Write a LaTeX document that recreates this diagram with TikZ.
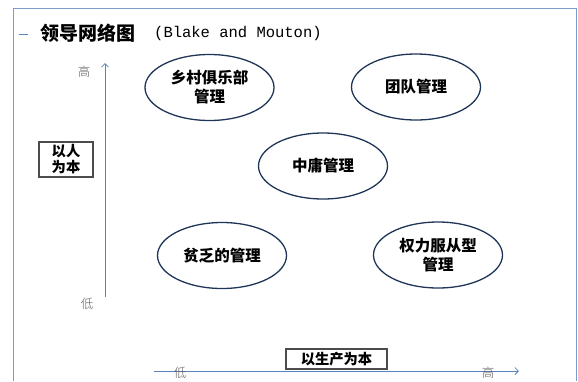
\documentclass[tikz,border=0pt]{standalone}
\usepackage{fontspec}
\usetikzlibrary{shapes.geometric,arrows.meta}
\newfontfamily\cjk{Noto Sans CJK SC}
\newfontfamily\cjklight{Noto Sans CJK SC Light}
\setmonofont{Liberation Mono}
\definecolor{framec}{HTML}{7C9CCB}
\definecolor{axisc}{HTML}{5B82BE}
\definecolor{ellc}{HTML}{1F3557}
\tikzset{
  px/.style={x=1pt,y=-1pt},
  oval/.style={ellipse,draw=ellc,line width=1.3pt,minimum width=129pt,minimum height=66pt,inner sep=0pt,align=center,font=\cjk\bfseries\fontsize{15.5}{19}\selectfont},
  tag/.style={draw=black!70,line width=1.2pt,fill=white,align=center,font=\cjk\bfseries\fontsize{14.3}{16}\selectfont},
  ticklab/.style={text=black!65,font=\cjklight\fontsize{12.5}{14}\selectfont,inner sep=0pt},
  axis/.style={draw=axisc,line width=0.8pt,-{Straight Barb[length=3.5pt,width=7pt]}}
}
\begin{document}
\begin{tikzpicture}[px]
\useasboundingbox (0,0) rectangle (578,381);
% frame
\draw[framec,line width=0.9pt] (13,381) -- (13,8) -- (576,8) -- (576,381);
% title
\draw[axisc,line width=0.9pt] (19,34) -- (28,34);
\node[anchor=west,inner sep=0pt] (title) at (40,33) {\cjk\bfseries\fontsize{19}{20}\selectfont 领导网络图};
\node[anchor=west,inner sep=0pt] (titlen) at (154,33) {\ttfamily\fontsize{15.5}{18}\selectfont (Blake and Mouton)};
% axes
\coordinate (ybot) at (105,297);
\coordinate (ytop) at (105,63);
\draw[axis] (ybot) -- (ytop);
\coordinate (xl) at (154,371);
\coordinate (xr) at (519,371);
\draw[axis] (xl) -- (xr);
\node[ticklab] (yhi) at (84,72) {高};
\node[ticklab] (ylo) at (87,304) {低};
\node[ticklab] (xlo) at (180,373) {低};
\node[ticklab] (xhi) at (488,373) {高};
% axis tags
\node[tag,minimum width=54pt,minimum height=35pt,inner sep=1pt] (people) at (66,159.5) {以人\\为本};
\node[tag,minimum width=101pt,minimum height=20pt,inner sep=0.5pt] (prod) at (336.5,359) {以生产为本};
% styles
\node[oval] (country) at (209.5,87.5) {乡村俱乐部\\管理};
\node[oval] (team) at (416,87) {团队管理};
\node[oval] (middle) at (323,166) {中庸管理};
\node[oval] (poor) at (222,255.5) {贫乏的管理};
\node[oval] (auth) at (438,255) {权力服从型\\管理};
\end{tikzpicture}
\end{document}
